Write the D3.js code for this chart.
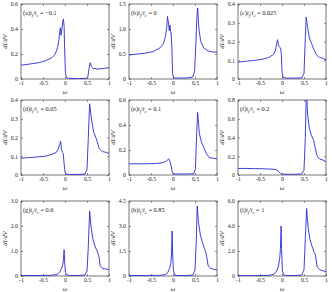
<!DOCTYPE html>
<html>
<head>
<meta charset="utf-8">
<script src="https://cdn.jsdelivr.net/npm/d3@7"></script>
<style>
  body { margin: 0; background: #fff; }
  svg text { font-family: "Liberation Serif", "DejaVu Serif", serif; fill: #222; }
</style>
</head>
<body>
<div id="chart"></div>
<script>
// panel data: omega grid and dI/dV values
var aW = [-1,-0.8,-0.6,-0.45,-0.3,-0.22,-0.17,-0.14,-0.12,-0.105,-0.09,-0.07,-0.05,-0.035,-0.02,-0.005,0.01,0.03,0.08,0.3,0.48,0.52,0.55,0.57,0.6,0.64,0.75,0.9,1];
var aV = [0.11,0.12,0.13,0.145,0.17,0.2,0.25,0.31,0.38,0.41,0.35,0.4,0.46,0.48,0.42,0.2,0.05,0.012,0.005,0.003,0.005,0.02,0.09,0.13,0.1,0.085,0.08,0.085,0.09];

var bW = [-1,-0.8,-0.6,-0.45,-0.3,-0.22,-0.17,-0.14,-0.125,-0.1,-0.085,-0.07,-0.055,-0.04,-0.025,-0.01,0.01,0.05,0.3,0.45,0.49,0.52,0.54,0.56,0.59,0.63,0.7,0.8,0.9,1];
var bV = [0.48,0.5,0.52,0.55,0.62,0.7,0.85,1.05,1.25,1.1,0.97,1.08,0.95,0.9,0.6,0.12,0.03,0.02,0.02,0.04,0.15,0.7,1.2,1.42,1.0,0.75,0.62,0.56,0.54,0.54];

var cW = [-1,-0.8,-0.6,-0.45,-0.3,-0.2,-0.15,-0.12,-0.1,-0.08,-0.05,-0.03,-0.015,0,0.02,0.1,0.3,0.45,0.5,0.53,0.55,0.58,0.62,0.67,0.72,0.78,0.85,0.95,0.98,1];
var cV = [0.09,0.095,0.1,0.105,0.115,0.13,0.15,0.19,0.21,0.18,0.168,0.165,0.13,0.04,0.01,0.005,0.005,0.006,0.03,0.22,0.33,0.28,0.22,0.19,0.16,0.13,0.115,0.11,0.1,0.11];

var dW = [-1,-0.8,-0.6,-0.45,-0.3,-0.2,-0.15,-0.12,-0.1,-0.08,-0.06,-0.04,-0.02,0,0.02,0.1,0.3,0.45,0.5,0.53,0.56,0.6,0.65,0.7,0.73,0.78,0.85,0.95,1];
var dV = [0.09,0.093,0.097,0.1,0.11,0.12,0.14,0.165,0.18,0.14,0.12,0.115,0.06,0.015,0.005,0.003,0.003,0.005,0.03,0.2,0.38,0.3,0.23,0.2,0.18,0.14,0.125,0.12,0.115];

var eW = [-1,-0.8,-0.6,-0.4,-0.25,-0.15,-0.1,-0.07,-0.04,-0.02,0,0.05,0.3,0.47,0.51,0.54,0.56,0.6,0.65,0.7,0.76,0.82,0.9,1];
var eV = [0.09,0.09,0.09,0.092,0.097,0.11,0.13,0.11,0.07,0.03,0.01,0.008,0.008,0.01,0.05,0.35,0.5,0.33,0.26,0.22,0.17,0.14,0.135,0.13];

var fW = [-1,-0.8,-0.6,-0.4,-0.2,-0.12,-0.07,-0.03,0,0.05,0.3,0.45,0.5,0.53,0.555,0.58,0.62,0.67,0.72,0.76,0.8,0.86,0.93,1];
var fV = [0.07,0.07,0.068,0.066,0.062,0.055,0.035,0.015,0.01,0.008,0.008,0.012,0.05,0.4,0.95,0.65,0.5,0.42,0.37,0.28,0.2,0.17,0.16,0.14];

var gW = [-1,-0.6,-0.3,-0.18,-0.12,-0.08,-0.05,-0.035,-0.02,-0.01,0.01,0.04,0.1,0.3,0.45,0.5,0.53,0.56,0.59,0.63,0.68,0.73,0.77,0.8,0.86,0.93,1];
var gV = [0.02,0.02,0.03,0.06,0.15,0.3,0.45,0.65,1.05,0.6,0.15,0.05,0.02,0.02,0.04,0.2,1.2,2.6,2.0,1.5,1.2,1.0,0.8,0.4,0.3,0.28,0.25];

var hW = [-1,-0.6,-0.3,-0.18,-0.12,-0.08,-0.05,-0.035,-0.02,-0.01,0.01,0.04,0.1,0.3,0.45,0.5,0.53,0.55,0.58,0.62,0.67,0.72,0.75,0.8,0.86,0.93,1];
var hV = [0.03,0.03,0.04,0.08,0.2,0.45,0.75,1.2,2.7,1.5,0.3,0.06,0.03,0.03,0.06,0.35,2.2,4.2,3.2,2.5,2.0,1.6,1.4,0.6,0.45,0.4,0.35];

var iW = [-1,-0.6,-0.3,-0.18,-0.12,-0.08,-0.05,-0.035,-0.02,-0.01,0.01,0.04,0.1,0.3,0.45,0.5,0.53,0.56,0.59,0.63,0.68,0.73,0.76,0.8,0.86,0.93,1];
var iV = [0.03,0.03,0.05,0.15,0.4,0.8,1.5,2.2,4.0,2.2,0.4,0.08,0.04,0.04,0.08,0.5,3.0,5.4,4.0,3.0,2.4,1.9,1.7,0.7,0.5,0.42,0.35];

var labels = ["(a)", "(b)", "(c)", "(d)", "(e)", "(f)", "(g)", "(h)", "(i)"];
var ratios = ["\u22120.1", "0", "0.025", "0.05", "0.1", "0.2", "0.6", "0.85", "1"];
var xTicks = [-1, -0.5, 0, 0.5, 1];
var xTickLabels = ["-1", "-0.5", "0", "0.5", "1"];
var yTicks = [
  [0, 0.2, 0.4, 0.6], [0, 0.5, 1.0, 1.5], [0, 0.1, 0.2, 0.3, 0.4],
  [0, 0.1, 0.2, 0.3, 0.4], [0, 0.2, 0.4, 0.6], [0, 0.2, 0.4, 0.6, 0.8],
  [0, 1.0, 2.0, 3.0], [0, 1.5, 3.0, 4.5], [0, 2.0, 4.0, 6.0]
];
var yTickLabels = [
  ["0", "0.2", "0.4", "0.6"], ["0", "0.5", "1.0", "1.5"], ["0", "0.1", "0.2", "0.3", "0.4"],
  ["0", "0.1", "0.2", "0.3", "0.4"], ["0", "0.2", "0.4", "0.6"], ["0", "0.2", "0.4", "0.6", "0.8"],
  ["0", "1.0", "2.0", "3.0"], ["0", "1.5", "3.0", "4.5"], ["0", "2.0", "4.0", "6.0"]
];
var series = [[aW, aV], [bW, bV], [cW, cV], [dW, dV], [eW, eV], [fW, fV], [gW, gV], [hW, hV], [iW, iV]];

// layout of the 3x3 grid
var colLeft = [21, 129, 238], rowTop = [4, 100, 201];
var pw = 88, ph = 75;

var svg = d3.select("#chart").append("svg")
  .attr("width", 332)
  .attr("height", 292);

series.forEach(function(s, k) {
  var col = k % 3, row = Math.floor(k / 3);
  var g = svg.append("g")
    .attr("transform", "translate(" + colLeft[col] + "," + rowTop[row] + ")");

  var yt = yTicks[k];
  var x = d3.scaleLinear().domain([-1, 1]).range([0, pw]);
  var y = d3.scaleLinear().domain([0, yt[yt.length - 1]]).range([ph, 0]);

  g.append("clipPath").attr("id", "clip" + k)
    .append("rect").attr("width", pw).attr("height", ph);

  // bottom axis
  g.append("g")
    .attr("transform", "translate(0," + ph + ")")
    .call(d3.axisBottom(x).tickValues(xTicks).tickSize(-2).tickPadding(2)
      .tickFormat(function(d, i) { return xTickLabels[i]; }));
  // left axis
  g.append("g")
    .call(d3.axisLeft(y).tickValues(yt).tickSize(-2).tickPadding(3)
      .tickFormat(function(d, i) { return yTickLabels[k][i]; }));
  // top and right ticks
  g.append("g").call(d3.axisTop(x).tickValues(xTicks).tickSize(-2).tickFormat(""));
  g.append("g").attr("transform", "translate(" + pw + ",0)")
    .call(d3.axisRight(y).tickValues(yt).tickSize(-2).tickFormat(""));

  g.selectAll(".domain").remove();
  g.selectAll(".tick line").attr("stroke", "#444").attr("stroke-width", 0.6);
  g.selectAll(".tick text").style("font-size", "5.8px").attr("fill", "#333");

  g.append("rect")
    .attr("width", pw).attr("height", ph)
    .attr("fill", "none").attr("stroke", "#555").attr("stroke-width", 0.8);

  var line = d3.line()
    .x(function(d) { return x(d[0]); })
    .y(function(d) { return y(d[1]); });

  g.append("path")
    .datum(s[0].map(function(w, i) { return [w, s[1][i]]; }))
    .attr("clip-path", "url(#clip" + k + ")")
    .attr("fill", "none")
    .attr("stroke", "#2a2ad6")
    .attr("stroke-width", 0.9)
    .attr("d", line);

  // panel title
  var t = g.append("text").attr("x", 2).attr("y", 11).style("font-size", "6.3px");
  t.append("tspan").text(labels[k]);
  t.append("tspan").style("font-style", "italic").text("t");
  t.append("tspan").attr("dy", 1.5).style("font-size", "4.5px").style("font-style", "italic").text("f");
  t.append("tspan").attr("dy", -1.5).text("/");
  t.append("tspan").style("font-style", "italic").text("t");
  t.append("tspan").attr("dy", 1.5).style("font-size", "4.5px").style("font-style", "italic").text("c");
  t.append("tspan").attr("dy", -1.5).text(" = " + ratios[k]);

  // axis labels
  g.append("text")
    .attr("x", pw / 2).attr("y", ph + 14.5)
    .attr("text-anchor", "middle")
    .style("font-size", "6.5px").style("font-style", "italic")
    .text("\u03c9");
  g.append("text")
    .attr("transform", "translate(-14," + (ph / 2) + ")rotate(-90)")
    .attr("text-anchor", "middle")
    .style("font-size", "6.5px").style("font-style", "italic")
    .text("dI/dV");
});
</script>
</body>
</html>
